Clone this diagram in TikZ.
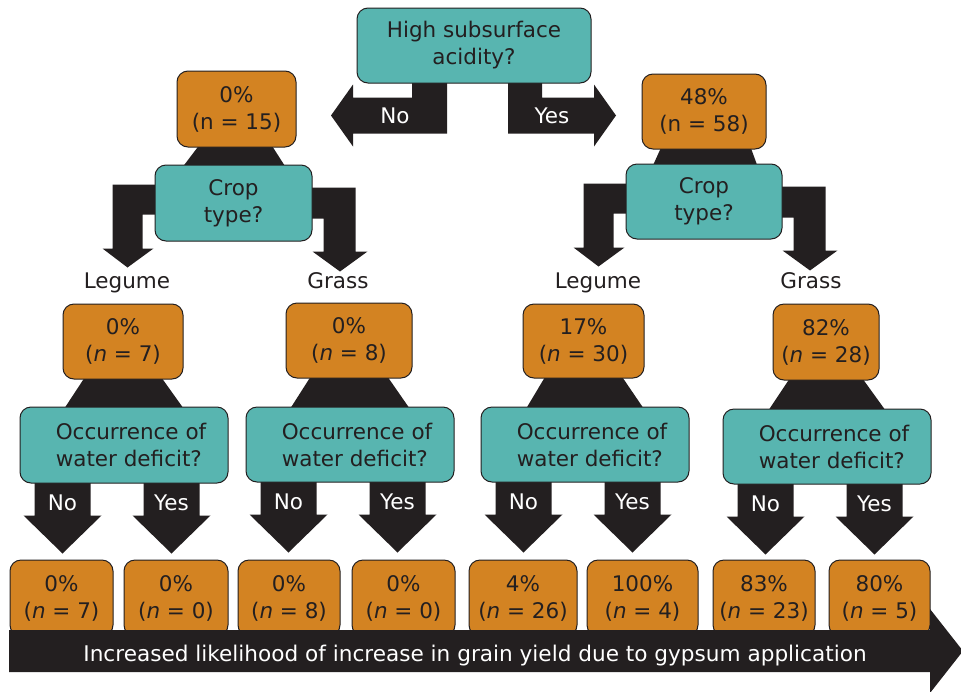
\documentclass[tikz,border=0pt]{standalone}
\usepackage{fontspec}
\setmainfont{DejaVu Sans}[ItalicFont={DejaVu Sans Oblique}]
\usetikzlibrary{calc}
\definecolor{tealc}{HTML}{58B5B0}
\definecolor{orangec}{HTML}{D38322}
\definecolor{darkc}{HTML}{231F20}
\pgfdeclarelayer{bg}
\pgfsetlayers{bg,main}
\tikzset{
  box/.style={draw=darkc, line width=1pt, rounded corners=11pt, align=center, inner sep=0pt,
    text=darkc, font=\fontsize{21.5}{27}\selectfont},
  qbox/.style={box, fill=tealc},
  wbox/.style={qbox, align=left},
  pbox/.style={box, fill=orangec},
  arr/.style={fill=darkc},
  wlbl/.style={text=white, font=\fontsize{21.5}{26}\selectfont, inner sep=0pt},
  blbl/.style={text=darkc, font=\fontsize{21.5}{26}\selectfont, inner sep=0pt, anchor=base},
}
\newcommand{\mytrap}[4]{\fill[arr] ($(#1.south)+(-#3,-4)$) -- ($(#1.south)+(#3,-4)$) -- ($(#2.north)+(#4,4)$) -- ($(#2.north)+(-#4,4)$) -- cycle;}
\newcommand{\mydarr}[4]{%
  \begin{scope}[shift={($(#1.south)+(#2,0)$)}]
    \fill[arr] (-28,-3) -- (28,-3) -- (28,32) -- (39,32) -- (0,70) -- (-39,32) -- (-28,32) -- cycle;
    \node[wlbl] (#4) at (0,19) {#3};
  \end{scope}}
\newcommand{\mybranch}[1]{%
  \begin{scope}[shift={(#1.north west)}]
    \fill[arr] (3,20) -- (-42,20) -- (-42,84) -- (-52,84) -- (-27,103) -- (-1,84) -- (-12,84) -- (-12,50) -- (3,50) -- cycle;
  \end{scope}
  \begin{scope}[shift={(#1.north east)}]
    \fill[arr] (-3,23) -- (43,23) -- (43,87) -- (55,87) -- (27.5,107) -- (0,87) -- (11,87) -- (11,54) -- (-3,54) -- cycle;
  \end{scope}}
\newcommand{\wtext}{\hspace*{14pt}Occurrence of\\\hspace*{14pt}water deficit?}
\begin{document}
\begin{tikzpicture}[x=1pt,y=-1pt]
\useasboundingbox (0,0) rectangle (961,691);

% level 0
\node[qbox, minimum width=234pt, minimum height=75pt] (top) at (474,45.5) {High subsurface\\acidity?};
% level 1
\node[pbox, minimum width=119pt, minimum height=76pt] (o0) at (236.5,109) {0\%\\(n = 15)};
\node[pbox, minimum width=124pt, minimum height=75pt] (o48) at (704,111.5) {48\%\\(n = 58)};
\node[qbox, minimum width=157pt, minimum height=76pt] (c0) at (233.5,203) {Crop\\type?};
\node[qbox, minimum width=156pt, minimum height=75pt] (c1) at (704,201.5) {Crop\\type?};
% labels
\node[blbl] (leg0) at (127,288) {Legume};
\node[blbl] (gra0) at (338,288) {Grass};
\node[blbl] (leg1) at (598,288) {Legume};
\node[blbl] (gra1) at (811,288) {Grass};
% level 2
\node[pbox, minimum width=120pt, minimum height=75pt] (a) at (123,341.5) {0\%\\(\textit{n} = 7)};
\node[pbox, minimum width=126pt, minimum height=75pt] (b) at (349,340.5) {0\%\\(\textit{n} = 8)};
\node[pbox, minimum width=121pt, minimum height=74pt] (c) at (583.5,341) {17\%\\(\textit{n} = 30)};
\node[pbox, minimum width=106pt, minimum height=76pt] (d) at (826,342) {82\%\\(\textit{n} = 28)};
\node[wbox, minimum width=208pt, minimum height=76pt] (w1) at (124,445) {\wtext};
\node[wbox, minimum width=208pt, minimum height=75pt] (w2) at (350,444.5) {\wtext};
\node[wbox, minimum width=208pt, minimum height=75pt] (w3) at (585,444.5) {\wtext};
\node[wbox, minimum width=208pt, minimum height=75pt] (w4) at (827,446.5) {\wtext};
% leaves
\node[pbox, minimum width=103pt, minimum height=76pt] (l1) at (61.5,598) {0\%\\(\textit{n} = 7)};
\node[pbox, minimum width=104pt, minimum height=76pt] (l2) at (176,598) {0\%\\(\textit{n} = 0)};
\node[pbox, minimum width=102pt, minimum height=76pt] (l3) at (289,598) {0\%\\(\textit{n} = 8)};
\node[pbox, minimum width=103pt, minimum height=76pt] (l4) at (403.5,598) {0\%\\(\textit{n} = 0)};
\node[pbox, minimum width=108pt, minimum height=76pt] (l5) at (523,598) {4\%\\(\textit{n} = 26)};
\node[pbox, minimum width=111pt, minimum height=76pt] (l6) at (642.5,598) {100\%\\(\textit{n} = 4)};
\node[pbox, minimum width=102pt, minimum height=76pt] (l7) at (764,598) {83\%\\(\textit{n} = 23)};
\node[pbox, minimum width=101pt, minimum height=76pt] (l8) at (879.5,598) {80\%\\(\textit{n} = 5)};

\begin{pgfonlayer}{bg}
  \begin{scope}[shift={(top.south)}]
    \fill[arr] (-62,-3) -- (-27,-3) -- (-27,50) -- (-121,50) -- (-121,63) -- (-143,32) -- (-121,1) -- (-121,14) -- (-62,14) -- cycle;
    \node[wlbl] (no0) at (-79,32) {No};
    \fill[arr] (34,-3) -- (68,-3) -- (68,14) -- (120,14) -- (120,1) -- (142,32) -- (120,63) -- (120,50) -- (34,50) -- cycle;
    \node[wlbl] (yes0) at (78,32) {Yes};
  \end{scope}
  \fill[arr] ($(o0.south)+(-36,-4)$) -- ($(o0.south)+(34,-4)$) -- ($(c0.north)+(53,4)$) -- ($(c0.north)+(-52,4)$) -- cycle;
  \fill[arr] ($(o48.south)+(-42,-4)$) -- ($(o48.south)+(46,-4)$) -- ($(c1.north)+(54,4)$) -- ($(c1.north)+(-52,4)$) -- cycle;
  \mybranch{c0}
  \mybranch{c1}
  \mytrap{a}{w1}{37}{61}
  \mytrap{b}{w2}{37}{61}
  \mytrap{c}{w3}{37}{60}
  \mytrap{d}{w4}{35}{60}
  \mydarr{w1}{-61.5}{No}{n1}
  \mydarr{w1}{47.5}{Yes}{y1}
  \mydarr{w2}{-61.5}{No}{n2}
  \mydarr{w2}{47.5}{Yes}{y2}
  \mydarr{w3}{-61.5}{No}{n3}
  \mydarr{w3}{47.5}{Yes}{y3}
  \mydarr{w4}{-61.5}{No}{n4}
  \mydarr{w4}{47.5}{Yes}{y4}
\end{pgfonlayer}

% bottom axis arrow
\fill[arr] (9,630) -- (930,630) -- (930,609) -- (963,651) -- (930,693) -- (930,672) -- (9,672) -- cycle;
\node[wlbl, font=\fontsize{21.6}{26}\selectfont] (axis) at (475,655.5) {Increased likelihood of increase in grain yield due to gypsum application};
\end{tikzpicture}
\end{document}
